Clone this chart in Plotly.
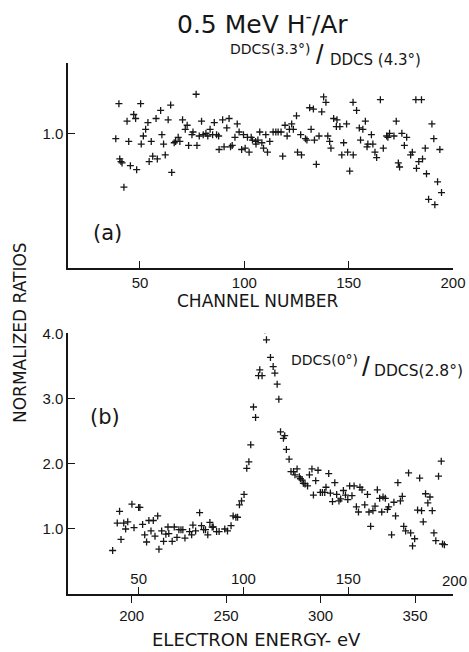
import plotly.graph_objects as go

# ---------------- data ----------------
# Panel (a): DDCS(3.3deg)/DDCS(4.3deg) vs channel number
channel_a = [39.9, 50.3, 76.9, 64.7, 59.9, 47.0, 47.9, 43.8, 53.8, 57.7, 63.5, 70.4, 72.6, 79.5, 85.6,
             52.7, 71.7, 75.4, 74.9, 83.6, 81.6, 80.3, 84.8, 86.7, 87.7, 78.4, 82.5, 51.6, 60.5, 68.3,
             38.4, 44.6, 50.6, 55.4, 61.3, 67.1, 66.4, 69.1, 73.3, 77.3, 87.9, 62.1, 56.1, 58.3, 54.4,
             40.3, 40.9, 41.4, 45.4, 48.4, 65.2, 42.3,
             138.0, 139.1, 131.3, 133.1, 137.1, 125.0, 142.8, 92.7, 89.6, 96.6, 119.5, 122.7, 91.6, 123.5,
             121.6, 132.0, 97.5, 107.4, 113.8, 115.1, 116.2, 117.6, 99.6, 110.3, 120.5, 127.0, 135.8, 140.0,
             95.5, 101.5, 103.3, 103.9, 106.5, 105.4, 112.2, 129.3, 130.0, 133.6, 140.9, 108.4, 105.6, 94.2,
             93.4, 90.3, 98.7, 100.4, 109.2, 102.3, 111.1, 141.5, 125.5, 127.4, 118.4, 134.5,
             152.1, 165.2, 182.2, 184.9, 153.8, 144.4, 149.0, 144.1, 145.8, 158.0, 172.8, 189.9, 155.1, 156.8,
             160.9, 169.6, 168.2, 168.8, 171.7, 175.5, 177.8, 190.8, 147.6, 155.7, 159.2, 158.8, 161.6, 176.7,
             166.6, 186.7, 193.7, 149.5, 146.7, 152.2, 162.6, 180.5, 179.7, 163.4, 185.4, 173.8, 174.4, 183.6,
             150.5, 182.5, 187.3, 192.6, 194.5, 188.3, 191.3]
ratio_a = [1.22, 1.22, 1.29, 1.21, 1.17, 1.14, 1.11, 1.09, 1.08, 1.11, 1.10, 1.10, 1.06, 1.09, 1.08,
           1.03, 1.03, 1.01, 0.99, 1.03, 1.00, 0.99, 0.99, 0.99, 0.98, 0.98, 0.98, 0.98, 0.99, 0.97,
           0.96, 0.94, 0.92, 0.94, 0.92, 0.94, 0.93, 0.94, 0.91, 0.91, 0.88, 0.84, 0.83, 0.81, 0.79,
           0.81, 0.79, 0.78, 0.76, 0.73, 0.71, 0.60,
           1.27, 1.23, 1.19, 1.18, 1.16, 1.13, 1.11, 1.11, 1.10, 1.07, 1.06, 1.07, 1.04, 1.03,
           1.03, 1.03, 1.01, 1.01, 1.01, 1.01, 1.01, 1.01, 0.99, 0.99, 0.98, 0.99, 0.98, 0.98,
           0.97, 0.97, 0.97, 0.95, 0.95, 0.94, 0.94, 0.96, 0.95, 0.95, 0.94, 0.93, 0.92, 0.91,
           0.90, 0.90, 0.88, 0.89, 0.89, 0.86, 0.86, 0.89, 0.86, 0.84, 0.83, 0.77,
           1.23, 1.25, 1.25, 1.25, 1.17, 1.10, 1.07, 1.05, 1.05, 1.09, 1.09, 1.07, 1.04, 1.03,
           0.99, 1.00, 0.98, 0.97, 0.98, 1.00, 0.97, 0.96, 0.93, 0.95, 0.92, 0.90, 0.92, 0.91,
           0.89, 0.89, 0.88, 0.86, 0.84, 0.84, 0.86, 0.86, 0.84, 0.82, 0.81, 0.78, 0.75, 0.79,
           0.72, 0.74, 0.70, 0.64, 0.56, 0.51, 0.47]

# Panel (b): DDCS(0deg)/DDCS(2.8deg) vs channel number (energy scale below)
channel_b = [37.6, 41.6, 39.8, 40.9, 42.9, 44.8, 43.8, 46.8, 50.0, 50.6, 47.8, 51.9, 52.9, 53.8, 54.9,
             57.0, 59.1, 55.9, 57.8, 59.7, 61.0, 61.9, 63.0, 64.4, 64.0, 66.0, 67.0, 68.3, 69.2, 70.2,
             71.1, 72.1, 74.3, 75.3, 75.9, 77.2, 79.1, 80.0, 81.0, 81.9, 83.0, 84.0, 85.1, 85.6, 87.2,
             88.4, 91.1, 92.4, 94.1, 95.1, 96.4, 97.2, 98.1, 99.1, 100.3,
             101.6, 102.6, 103.5, 104.8, 105.8, 107.2, 107.8, 108.9, 110.3, 111.0, 112.9, 114.2, 115.0,
             116.1, 116.9, 117.7, 119.1, 119.7, 120.5, 121.8, 122.7, 123.9, 124.6, 125.6, 126.7, 127.2,
             128.0, 128.6, 129.4, 130.6, 131.5, 132.7, 133.4,
             134.5, 135.6, 136.7, 137.7, 138.8, 139.4, 140.7, 141.5, 142.5, 143.6, 144.5, 145.6, 146.4,
             147.7, 148.7, 149.8, 150.7, 151.8, 152.8, 153.9, 154.9, 155.6, 156.6, 157.9, 159.2, 159.9,
             160.7, 161.8, 162.8, 163.9, 165.0, 166.0, 166.6, 167.7, 168.7, 169.3, 170.7, 171.8, 172.6,
             173.7, 174.9, 175.8, 176.5, 177.4, 178.8, 179.8, 180.7, 181.7, 183.1, 184.1, 185.0, 185.8,
             186.9, 188.0, 189.0, 190.1, 190.9, 191.8, 193.1, 194.4, 195.0, 195.9]
ratio_b = [0.67, 0.84, 1.09, 1.27, 1.09, 1.11, 1.00, 1.38, 1.33, 1.33, 1.02, 1.07, 0.91, 0.80, 1.13,
           1.13, 1.20, 0.97, 0.89, 0.69, 0.97, 0.81, 0.92, 0.93, 1.03, 0.81, 1.03, 0.87, 0.99, 0.99,
           0.99, 0.86, 0.96, 0.91, 1.06, 0.97, 1.25, 1.05, 0.99, 0.99, 0.91, 1.10, 1.03, 1.03, 0.96,
           0.96, 1.00, 0.97, 1.05, 1.20, 1.18, 1.18, 1.37, 1.43, 1.53,
           1.93, 2.03, 2.29, 2.87, 2.71, 3.35, 3.44, 3.35, 4.05, 3.90, 3.63, 3.49, 3.39,
           3.22, 2.99, 2.49, 2.39, 2.43, 2.22, 2.07, 1.88, 1.88, 1.83, 1.92, 1.80, 1.77,
           1.75, 1.70, 1.69, 1.66, 1.83, 1.92, 1.52,
           1.74, 1.90, 1.56, 1.56, 1.56, 1.64, 1.85, 1.55, 1.42, 1.71, 1.53, 1.43, 1.46,
           1.59, 1.52, 1.45, 1.66, 1.51, 1.66, 1.34, 1.26, 1.64, 1.60, 1.37, 1.53, 1.26,
           1.04, 1.28, 1.35, 1.60, 1.47, 1.26, 1.49, 1.47, 1.30, 1.34, 0.91, 1.41, 1.20,
           1.71, 1.43, 1.50, 1.04, 0.97, 1.86, 0.94, 0.74, 0.85, 1.29, 1.78, 1.28, 1.11,
           1.54, 1.40, 1.49, 1.28, 0.94, 0.82, 1.81, 2.04, 0.77, 0.76]

channel_ticks = [50, 100, 150, 200]
energy_ticks = [200, 250, 300, 350]
ratio_ticks_b = [1.0, 2.0, 3.0, 4.0]
ratio_ticklabels_b = ["1.0", "2.0", "3.0", "4.0"]

# ---------------- figure ----------------
W, H = 469, 652
TICKFONT = "Liberation Sans"
LABELFONT = "DejaVu Sans"
INK = "#161616"


def px(x):
    return x / W


def py(y):
    return 1 - y / H


marker = dict(symbol="cross-thin", size=5, line=dict(width=1.3, color=INK), color=INK)

fig = go.Figure()
fig.add_trace(go.Scatter(x=channel_a, y=ratio_a, mode="markers", marker=marker,
                         xaxis="x", yaxis="y", showlegend=False, hoverinfo="skip"))
fig.add_trace(go.Scatter(x=channel_b, y=ratio_b, mode="markers", marker=marker,
                         xaxis="x2", yaxis="y2", showlegend=False, hoverinfo="skip"))
# invisible trace so the energy axis is drawn
fig.add_trace(go.Scatter(x=[energy_ticks[0]], y=[None], mode="markers", xaxis="x3", yaxis="y2",
                         showlegend=False, hoverinfo="skip"))

xdom = [px(68), px(453)]
common = dict(showgrid=False, zeroline=False, showline=True, linecolor=INK, linewidth=1.5,
              tickcolor=INK, tickwidth=1.4, automargin=False,
              tickfont=dict(family=TICKFONT, size=15, color=INK))

fig.update_layout(
    template="none",
    width=W, height=H, autosize=False,
    margin=dict(l=0, r=0, t=0, b=0, pad=0),
    paper_bgcolor="white", plot_bgcolor="white",
    font=dict(family=TICKFONT, color=INK),
    xaxis=dict(domain=xdom, anchor="y", range=[15.5, 200], tickvals=channel_ticks,
               ticks="inside", ticklen=7, **common),
    yaxis=dict(domain=[py(268), py(63.3)], anchor="x", range=[0, 1.52],
               tickvals=[1.0, 1.52], ticktext=["1.0", " "], ticks="inside", ticklen=7, **common),
    xaxis2=dict(domain=xdom, anchor="y2", range=[16.3, 200], tickvals=channel_ticks,
                ticks="inside", ticklen=7, ticklabelposition="inside", **common),
    xaxis3=dict(overlaying="x2", anchor="y2", side="bottom", range=[166.3, 370.1],
                tickvals=energy_ticks, ticks="outside", ticklen=7, **common),
    yaxis2=dict(domain=[py(594.2), py(333.3)], anchor="x2", range=[0, 4.0],
                tickvals=ratio_ticks_b, ticktext=ratio_ticklabels_b,
                ticks="inside", ticklen=7, **common),
)


def note(text, x, y, size, xanchor="center", textangle=0, family=LABELFONT):
    fig.add_annotation(text=text, x=px(x), y=py(y), xref="paper", yref="paper",
                       showarrow=False, xanchor=xanchor, yanchor="middle", textangle=textangle,
                       font=dict(family=family, size=size, color=INK))


note("0.5 MeV H<sup>-</sup>/Ar", 262, 22, 25)
note("DDCS(3.3°)", 312, 49, 14, xanchor="right")
note("/", 320, 55, 27, family=TICKFONT)
note("DDCS (4.3°)", 328, 60, 15, xanchor="left")
note("(a)", 107, 233, 21)
note("CHANNEL NUMBER", 258, 301, 17)
note("NORMALIZED RATIOS", 20, 333, 17, textangle=-90)
note("(b)", 105, 417, 21)
note("DDCS(0°)", 360, 360, 14, xanchor="right")
note("/", 366, 366, 28, family=TICKFONT)
note("DDCS(2.8°)", 372, 371, 15.5, xanchor="left")
note("ELECTRON ENERGY- eV", 256, 639, 18)
# channel label at the right end of panel (b), hidden by plotly for inside labels at the edge
note(str(channel_ticks[-1]), 454, 580, 15, family=TICKFONT)

fig.write_html("out.html", config={"displayModeBar": False},
               post_script="document.body.style.margin='0';document.body.style.overflow='hidden';")
